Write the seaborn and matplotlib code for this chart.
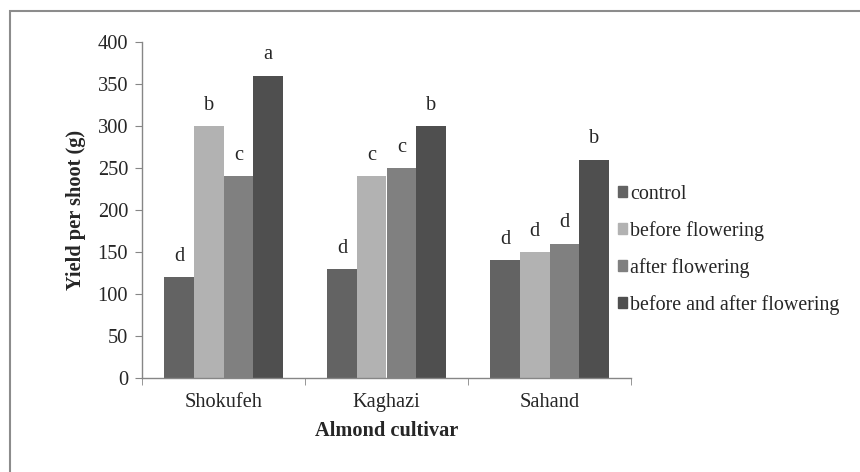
import numpy as np
import pandas as pd
import seaborn as sns
import matplotlib.pyplot as plt
from matplotlib.patches import Rectangle

# Data
cultivars = ["Shokufeh", "Kaghazi", "Sahand"]
treatments = ["control", "before flowering", "after flowering", "before and after flowering"]
control = [120, 130, 140]
before_flowering = [300, 240, 150]
after_flowering = [240, 250, 160]
before_after = [360, 300, 260]
letters = {
    "control": ["d", "d", "d"],
    "before flowering": ["b", "c", "d"],
    "after flowering": ["c", "c", "d"],
    "before and after flowering": ["a", "b", "b"],
}
colors = ["#636363", "#b2b2b2", "#808080", "#4f4f4f"]

series = [control, before_flowering, after_flowering, before_after]
rows = []
for t, vals in zip(treatments, series):
    for c, v in zip(cultivars, vals):
        rows.append({"cultivar": c, "treatment": t, "yield": v})
df = pd.DataFrame(rows)

sns.set_style("white")
plt.rcParams['font.family'] = ['Liberation Serif', 'DejaVu Serif']
fs = 14.7

fig = plt.figure(figsize=(8.6, 4.72), dpi=100)
ax = fig.add_axes([142 / 860, 1 - 378 / 472, (631 - 142) / 860, (378 - 42) / 472])

sns.barplot(data=df, x="cultivar", y="yield", hue="treatment", hue_order=treatments,
            order=cultivars, palette=colors, width=0.73, gap=0, saturation=1,
            edgecolor="none", errorbar=None, legend=False, ax=ax)

# significance letters above bars
nb = len(treatments)
bw = 0.73 / nb
for j, t in enumerate(treatments):
    for i, c in enumerate(cultivars):
        xpos = i - 0.73 / 2 + bw * (j + 0.5)
        ax.annotate(letters[t][i], (xpos, series[j][i]), xytext=(0, 8),
                    textcoords="offset points", ha="center", va="bottom", fontsize=fs)

ax.set_ylim(0, 400)
ax.set_xlim(-0.5, 2.5)
ax.set_yticks(range(0, 401, 50))
ax.tick_params(axis="y", labelsize=fs, length=5, color="#868686", direction="out", left=True, pad=5)
ax.set_xticks([0, 1, 2])
ax.set_xticks([-0.5, 0.5, 1.5, 2.5], minor=True)
ax.tick_params(axis="x", which="major", length=0, labelsize=fs, pad=11)
ax.tick_params(axis="x", which="minor", length=5, color="#868686", direction="out", bottom=True)
for s in ["top", "right"]:
    ax.spines[s].set_visible(False)
for s in ["left", "bottom"]:
    ax.spines[s].set_color("#868686")
    ax.spines[s].set_linewidth(1)

ax.set_xlabel("Almond cultivar", fontsize=fs, fontweight="bold", labelpad=6)
ax.set_ylabel("Yield per shoot (g)", fontsize=fs, fontweight="bold", labelpad=8)

handles = [Rectangle((0, 0), 1, 1, color=col) for col in colors]
fig.legend(handles, treatments, loc="upper left", bbox_to_anchor=(600 / 860, 1 - 167 / 472),
           frameon=False, fontsize=14.4, handlelength=0.47, handleheight=0.47,
           handletextpad=0.15, labelspacing=0.85)

# outer chart border (top and left visible)
fig.patches.append(Rectangle((10 / 860, -0.1), 1.2, 1.1 - 11 / 472, transform=fig.transFigure,
                             fill=False, edgecolor="#8c8c8c", linewidth=1.5))

fig.savefig("out.png", dpi=100)
